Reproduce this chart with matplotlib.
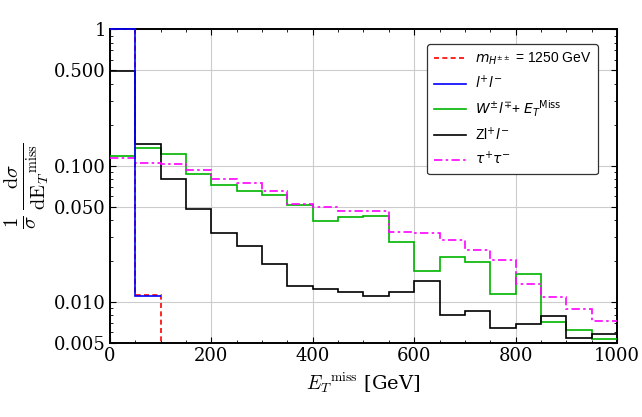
import numpy as np
import matplotlib
matplotlib.use("Agg")
import matplotlib.pyplot as plt
from matplotlib.ticker import FixedLocator, LogLocator, NullFormatter, MultipleLocator
from matplotlib.font_manager import FontProperties
from matplotlib.lines import Line2D

# bin edges in GeV (20 bins of 50 GeV)
edges = np.arange(0, 1001, 50)

# normalised distributions
signal_1250 = [1.0, 0.0112, 0]
ll = [1.0, 0.0110]
wl_met = [0.117, 0.135, 0.121, 0.0867, 0.0725, 0.0648, 0.0605, 0.0514, 0.0390, 0.0418,
          0.0427, 0.0275, 0.0169, 0.0213, 0.0195, 0.0115, 0.0160, 0.00709, 0.00625, 0.00535]
zll = [0.494, 0.143, 0.0794, 0.0481, 0.0320, 0.0258, 0.0190, 0.01315, 0.01244, 0.01183,
       0.0110, 0.0118, 0.0143, 0.00806, 0.00853, 0.0064, 0.00685, 0.00784, 0.0054, 0.0058]
tautau = [0.114, 0.104, 0.102, 0.0929, 0.0794, 0.0742, 0.0651, 0.0526, 0.0500, 0.0465,
          0.0465, 0.0324, 0.0320, 0.0286, 0.0239, 0.0204, 0.0135, 0.0109, 0.0089, 0.0073]

yticks = [0.005, 0.01, 0.05, 0.1, 0.5, 1]
yticklabels = ["0.005", "0.010", "0.050", "0.100", "0.500", "1"]

labels = [r"$m_{H^{\pm\pm}}$ = 1250 GeV",
          r"$l^{+}l^{-}$",
          r"$W^{\pm}l^{\mp}$+ $E_T{}^{\mathrm{Miss}}$",
          r"Zl$^{+}l^{-}$",
          r"$\tau^{+}\tau^{-}$"]
colors = ["#ff0000", "#0000ff", "#00b400", "black", "#ff00ff"]
styles = [(0, (3, 2)), "-", "-", "-", (0, (5, 2, 1.5, 2))]

plt.rcParams["font.family"] = "DejaVu Serif"
plt.rcParams["mathtext.fontset"] = "cm"

fig = plt.figure(figsize=(6.42, 4.17), dpi=100)
ax = fig.add_axes([0.1713, 0.1775, 0.7897, 0.7522])
ax.set_yscale("log")

lw = 1.2
ax.stairs(signal_1250, edges[:len(signal_1250) + 1], baseline=None, color=colors[0], lw=lw,
          linestyle=styles[0], zorder=3)
ax.stairs(ll, edges[:len(ll) + 1], baseline=None, color=colors[1], lw=lw, zorder=4,
          clip_on=False)
ax.stairs(wl_met, edges, baseline=None, color=colors[2], lw=lw, zorder=3)
ax.stairs(zll, edges, baseline=None, color=colors[3], lw=lw, zorder=3)
ax.stairs(tautau, edges, baseline=None, color=colors[4], lw=lw, linestyle=styles[4], zorder=3)

ax.set_xlim(0, 1000)
ax.set_ylim(0.005, 1)

ax.yaxis.set_major_locator(FixedLocator(yticks))
ax.set_yticklabels(yticklabels)
ax.yaxis.set_minor_locator(LogLocator(base=10, subs=np.arange(2, 10)))
ax.yaxis.set_minor_formatter(NullFormatter())
ax.xaxis.set_major_locator(MultipleLocator(200))
ax.xaxis.set_minor_locator(MultipleLocator(50))

ax.tick_params(which="both", direction="in", top=True, right=True, labelsize=13, pad=3)
ax.tick_params(which="major", length=4, width=0.8)
ax.tick_params(which="minor", length=2.5, width=0.6)
for s in ax.spines.values():
    s.set_linewidth(1.4)

ax.grid(True, which="major", color="#cccccc", lw=0.8)

ax.set_xlabel(r"$E_T{}^{\mathrm{miss}}$ [GeV]", fontsize=14, labelpad=4)
ax.set_ylabel(r"$\frac{1}{\sigma}\,\frac{\mathrm{d}\sigma}{\mathrm{dE}_T{}^{\mathrm{miss}}}$",
              fontsize=21, labelpad=2)

leg_lines = [Line2D([], [], color=c, lw=lw, linestyle=s) for c, s in zip(colors, styles)]
leg_font = FontProperties(family="Liberation Sans", size=10, math_fontfamily="dejavusans")
leg = ax.legend(leg_lines, labels, loc="upper right", bbox_to_anchor=(0.9625, 0.953),
                borderaxespad=0, prop=leg_font, frameon=True, fancybox=True, framealpha=1,
                edgecolor="#333333", handlelength=2.3, handletextpad=0.6,
                labelspacing=0.5, borderpad=0.5)
leg.get_frame().set_linewidth(0.9)

fig.savefig("out.png", dpi=100)
